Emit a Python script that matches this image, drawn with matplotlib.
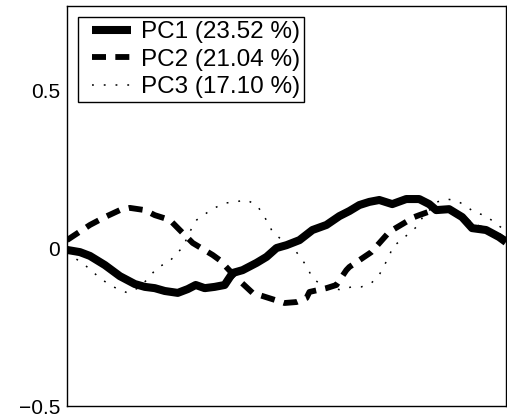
import matplotlib
matplotlib.use("Agg")
import matplotlib.pyplot as plt
from matplotlib.legend_handler import HandlerLine2D

plt.rcParams['font.family'] = ['Liberation Sans', 'DejaVu Sans']

# positions along the (unlabelled) x axis
pc1_x = [0, 13, 23, 38, 53, 68, 78, 88, 98, 111, 121, 129, 138, 148, 158, 166, 176, 190, 200, 210,
         220, 233, 246, 260, 273, 283, 293, 303, 313, 326, 340, 353, 363, 370, 383, 396, 406, 420, 433, 440]
pc1_y = [-0.006, -0.013, -0.025, -0.054, -0.089, -0.114, -0.123, -0.127, -0.136, -0.142,
         -0.130, -0.117, -0.127, -0.123, -0.117, -0.079, -0.070, -0.047, -0.028, 0.000,
         0.009, 0.025, 0.057, 0.073, 0.101, 0.117, 0.136, 0.146, 0.152, 0.139,
         0.155, 0.155, 0.139, 0.120, 0.123, 0.098, 0.063, 0.057, 0.035, 0.019]

pc2_x = [0, 23, 38, 53, 63, 78, 88, 103, 113, 126, 146, 153, 170, 186, 193, 218, 230, 240, 243, 260,
         270, 280, 283, 305, 323, 348, 353, 370, 383, 396, 406, 420, 433, 440]
pc2_y = [0.025, 0.073, 0.098, 0.120, 0.127, 0.120, 0.104, 0.089, 0.057, 0.016,
         -0.022, -0.038, -0.095, -0.142, -0.149, -0.174, -0.171, -0.158, -0.139, -0.127,
         -0.117, -0.070, -0.060, -0.013, 0.051, 0.098, 0.104, 0.123, 0.123, 0.098,
         0.070, 0.057, 0.038, 0.025]

pc3_x = [0, 8, 18, 33, 43, 53, 61, 71, 80, 91, 101, 108, 116, 125, 130, 140, 148, 158, 168, 180,
         190, 195, 201, 206, 213, 230, 236, 241, 246, 255, 266, 275, 285, 295, 305, 313, 318, 323,
         326, 335, 343, 350, 356, 371, 381, 391, 400, 409, 419, 428, 436, 440]
pc3_y = [-0.013, -0.032, -0.054, -0.095, -0.117, -0.133, -0.142, -0.127, -0.101, -0.060,
         -0.047, -0.025, 0.003, 0.063, 0.089, 0.111, 0.127, 0.142, 0.146, 0.152,
         0.136, 0.114, 0.082, 0.051, 0.032, -0.013, -0.038, -0.063, -0.095, -0.117,
         -0.127, -0.133, -0.123, -0.123, -0.111, -0.085, -0.054, -0.028, 0.003, 0.025,
         0.047, 0.066, 0.095, 0.146, 0.155, 0.149, 0.133, 0.111, 0.104, 0.082,
         0.063, 0.051]

labels = ['PC1 (23.52 %)', 'PC2 (21.04 %)', 'PC3 (17.10 %)']
yticks = [-0.5, 0, 0.5]
ytick_labels = ['\u22120.5', '0', '0.5']

fig = plt.figure(figsize=(5.07, 4.2), dpi=100)
ax = fig.add_axes([67 / 507, 14 / 420, 439 / 507, 400 / 420])

l1, = ax.plot(pc1_x, pc1_y, color='black', lw=5.8, solid_capstyle='butt',
              solid_joinstyle='round', label=labels[0])
l2, = ax.plot(pc2_x, pc2_y, color='black', lw=4.2, linestyle=(0, (2.4, 1.6)),
              dash_capstyle='butt', label=labels[1])
l3, = ax.plot(pc3_x, pc3_y, color='black', lw=1.1, linestyle=(0, (1.2, 6.5)),
              label=labels[2])

ax.set_xlim(0, 440)
ax.set_ylim(-0.5, 0.766)
ax.set_xticks([])
ax.set_yticks(yticks)
ax.set_yticklabels(ytick_labels)
ax.tick_params(axis='y', length=0, pad=5, labelsize=15)
for s in ax.spines.values():
    s.set_linewidth(1.0)

# shift the handle right inside its box, like the original legend
hl = HandlerLine2D(xpad=0.4)
leg = ax.legend(loc='upper left', fontsize=17.5, frameon=True, fancybox=False,
                edgecolor='black', framealpha=1, handlelength=2.0, handletextpad=0.41,
                borderaxespad=0.45, borderpad=0.18, labelspacing=0.22,
                handler_map={l1: hl, l2: hl, l3: hl})
leg.get_frame().set_linewidth(1.0)

fig.savefig('out.png', dpi=100)
